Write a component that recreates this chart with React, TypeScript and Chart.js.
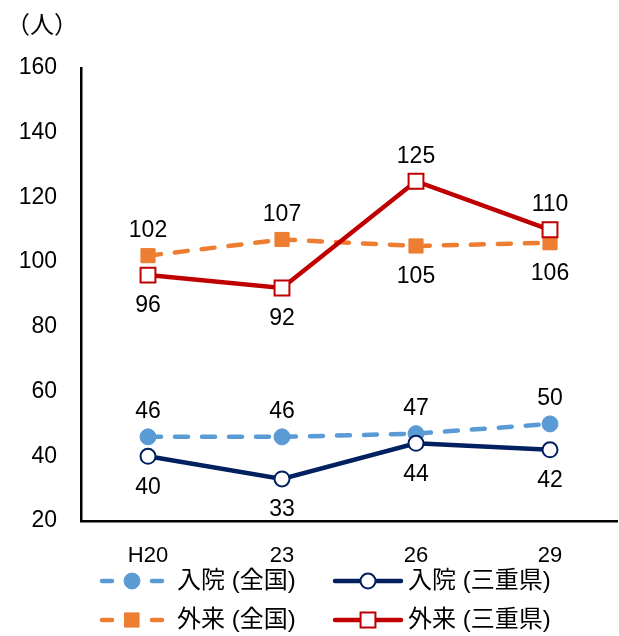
import React, { useEffect, useRef } from 'react';
import { Chart, registerables } from 'chart.js';
Chart.register(...registerables);

const categories = ['H20', '23', '26', '29'];
const inpatientNational = [46, 46, 47, 50];
const inpatientMie = [40, 33, 44, 42];
const outpatientNational = [102, 107, 105, 106];
const outpatientMie = [96, 92, 125, 110];
const seriesNames = ['入院 (全国)', '入院 (三重県)', '外来 (全国)', '外来 (三重県)'];
const yMin = 20;
const yMax = 160;
const yStep = 20;
const yUnit = '（人）';

const FONT = "'Liberation Sans', Arial, 'Noto Sans CJK JP', sans-serif";
const BLUE = '#5B9BD5';
const NAVY = '#002060';
const ORANGE = '#ED7D31';
const RED = '#C00000';

type Pos = 'above' | 'below';

const datasets = [
  {
    label: seriesNames[0],
    data: inpatientNational,
    borderColor: BLUE,
    backgroundColor: BLUE,
    borderDash: [13, 14],
    pointStyle: 'circle',
    pointRadius: 8,
    pointBorderWidth: 1,
    pointBackgroundColor: BLUE,
    pointBorderColor: BLUE,
    labelPos: ['above', 'above', 'above', 'above'] as Pos[],
    dashed: true,
    order: 4,
  },
  {
    label: seriesNames[1],
    data: inpatientMie,
    borderColor: NAVY,
    backgroundColor: NAVY,
    borderDash: [],
    pointStyle: 'circle',
    pointRadius: 7.5,
    pointBorderWidth: 2,
    pointBackgroundColor: '#FFFFFF',
    pointBorderColor: NAVY,
    labelPos: ['below', 'below', 'below', 'below'] as Pos[],
    dashed: false,
    order: 2,
  },
  {
    label: seriesNames[2],
    data: outpatientNational,
    borderColor: ORANGE,
    backgroundColor: ORANGE,
    borderDash: [13, 14],
    pointStyle: 'rect',
    pointRadius: 10,
    pointBorderWidth: 1,
    pointBackgroundColor: ORANGE,
    pointBorderColor: ORANGE,
    labelPos: ['above', 'above', 'below', 'below'] as Pos[],
    dashed: true,
    order: 3,
  },
  {
    label: seriesNames[3],
    data: outpatientMie,
    borderColor: RED,
    backgroundColor: RED,
    borderDash: [],
    pointStyle: 'rect',
    pointRadius: 10.5,
    pointBorderWidth: 2,
    pointBackgroundColor: '#FFFFFF',
    pointBorderColor: RED,
    labelPos: ['below', 'below', 'above', 'above'] as Pos[],
    dashed: false,
    order: 1,
  },
];

function drawMarker(ctx: CanvasRenderingContext2D, ds: any, x: number, y: number) {
  ctx.save();
  ctx.fillStyle = ds.pointBackgroundColor;
  ctx.strokeStyle = ds.pointBorderColor;
  ctx.lineWidth = ds.pointBorderWidth;
  ctx.setLineDash([]);
  ctx.beginPath();
  if (ds.pointStyle === 'circle') {
    ctx.arc(x, y, ds.pointRadius, 0, Math.PI * 2);
  } else {
    const h = ds.pointRadius * Math.SQRT1_2;
    ctx.rect(x - h, y - h, 2 * h, 2 * h);
  }
  ctx.fill();
  ctx.stroke();
  ctx.restore();
}

const decorPlugin = {
  id: 'decor',
  afterDatasetsDraw(chart: any) {
    const ctx: CanvasRenderingContext2D = chart.ctx;
    ctx.save();
    ctx.font = `23px ${FONT}`;
    ctx.fillStyle = '#000';
    ctx.textAlign = 'center';
    ctx.textBaseline = 'middle';
    chart.data.datasets.forEach((ds: any, di: number) => {
      const meta = chart.getDatasetMeta(di);
      meta.data.forEach((pt: any, i: number) => {
        const pos = ds.labelPos[i];
        const dy = pos === 'above' ? -25 : 31;
        ctx.fillText(String(ds.data[i]), pt.x, pt.y + dy);
      });
    });
    ctx.restore();
  },
  afterDraw(chart: any) {
    const ctx: CanvasRenderingContext2D = chart.ctx;
    ctx.save();
    // unit label
    ctx.font = `24px ${FONT}`;
    ctx.fillStyle = '#000';
    ctx.textAlign = 'left';
    ctx.textBaseline = 'middle';
    ctx.fillText(yUnit, 6, 26);

    // legend
    const cols = [
      { x0: 100, x1: 164, tx: 177 },
      { x0: 333, x1: 403, tx: 408 },
    ];
    const rows = [581, 620];
    chart.data.datasets.forEach((ds: any, di: number) => {
      const c = cols[di % 2];
      const y = rows[Math.floor(di / 2)];
      const mx = (c.x0 + c.x1) / 2;
      ctx.strokeStyle = ds.borderColor;
      ctx.lineWidth = 4.5;
      ctx.lineCap = 'round';
      ctx.setLineDash([]);
      ctx.beginPath();
      if (ds.dashed) {
        ctx.moveTo(c.x0 + 2, y);
        ctx.lineTo(c.x0 + 12, y);
        ctx.moveTo(c.x1 - 12, y);
        ctx.lineTo(c.x1 - 2, y);
      } else {
        ctx.moveTo(c.x0 + 2, y);
        ctx.lineTo(c.x1 - 2, y);
      }
      ctx.stroke();
      drawMarker(ctx, ds, mx, y);
      ctx.fillStyle = '#000';
      ctx.font = `24px ${FONT}`;
      ctx.textAlign = 'left';
      ctx.textBaseline = 'middle';
      ctx.fillText(ds.label, c.tx, y);
    });
    ctx.restore();
  },
};

export default function App() {
  const ref = useRef<HTMLCanvasElement>(null);
  useEffect(() => {
    if (!ref.current) return;
    const chart = new Chart(ref.current, {
      type: 'line',
      data: {
        labels: categories,
        datasets: datasets.map((d) => ({
          ...d,
          borderWidth: 4.5,
          borderCapStyle: 'round',
          fill: false,
          tension: 0,
          pointHoverRadius: d.pointRadius,
        })) as any,
      },
      options: {
        animation: false,
        responsive: true,
        maintainAspectRatio: false,
        events: [],
        layout: { autoPadding: false, padding: { top: 68, right: 2, bottom: 0, left: 0 } },
        plugins: {
          legend: { display: false },
          tooltip: { enabled: false },
          title: { display: false },
        },
        scales: {
          x: {
            offset: true,
            grid: { display: false, drawTicks: false },
            border: { display: true, color: '#000', width: 2.5 },
            ticks: {
              color: '#000',
              font: { family: FONT, size: 22 },
              padding: 22,
              maxRotation: 0,
            },
            afterFit(scale: any) {
              scale.height = 115;
              scale.paddingLeft = 0;
              scale.paddingRight = 0;
            },
          },
          y: {
            min: yMin,
            max: yMax,
            grid: { display: false, drawTicks: false },
            border: { display: true, color: '#000', width: 2.5 },
            ticks: {
              stepSize: yStep,
              color: '#000',
              font: { family: FONT, size: 23 },
              padding: 24,
            },
            afterFit(scale: any) {
              scale.width = 81;
              scale.paddingTop = 0;
              scale.paddingBottom = 0;
            },
          },
        },
      },
      plugins: [decorPlugin],
    });
    return () => chart.destroy();
  }, []);
  return (
    <div style={{ position: 'fixed', left: 0, top: 0, width: 619, height: 636, background: '#fff' }}>
      <canvas ref={ref} />
    </div>
  );
}
